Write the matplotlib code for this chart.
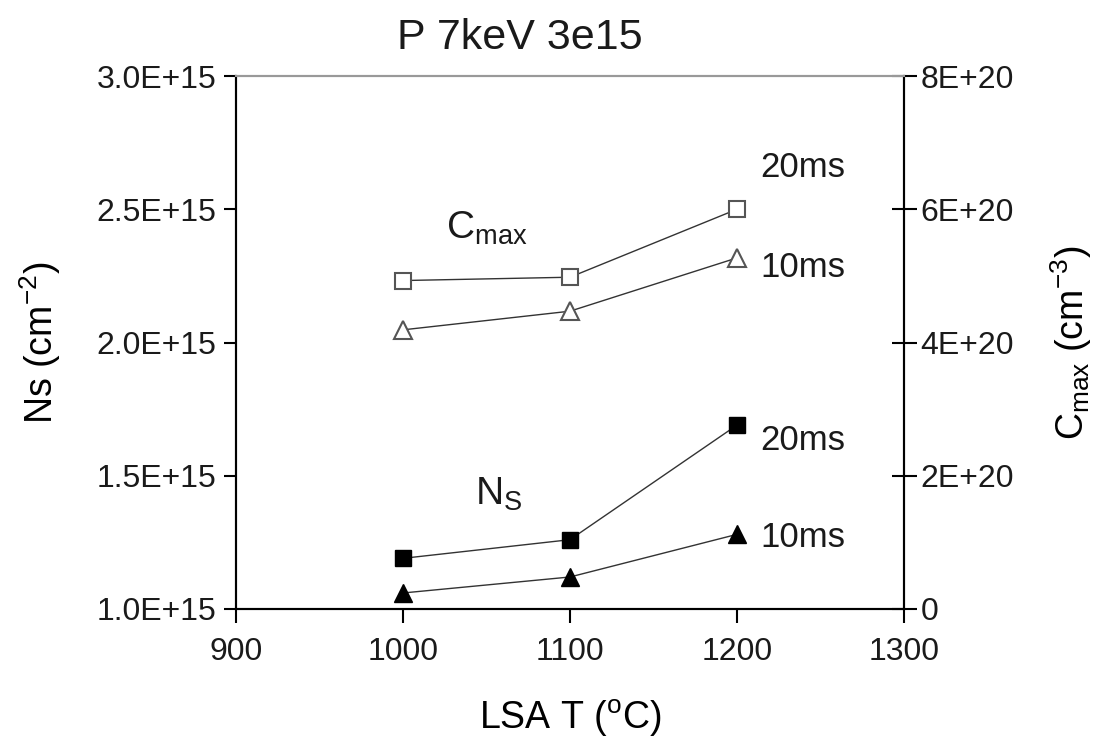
import matplotlib
matplotlib.use('Agg')
import matplotlib.pyplot as plt
from matplotlib.ticker import FuncFormatter

plt.rcParams['font.family'] = ['Liberation Sans', 'DejaVu Sans']
plt.rcParams['mathtext.fontset'] = 'custom'
plt.rcParams['mathtext.rm'] = 'Liberation Sans'
plt.rcParams['mathtext.it'] = 'Liberation Sans'
plt.rcParams['text.color'] = '#1a1a1a'
plt.rcParams['xtick.labelcolor'] = '#1a1a1a'
plt.rcParams['ytick.labelcolor'] = '#1a1a1a'

# LSA temperature (C)
temps = [1000, 1100, 1200]

# sheet dose Ns (cm^-2)
ns_20ms = [1.19e15, 1.26e15, 1.69e15]
ns_10ms = [1.06e15, 1.12e15, 1.28e15]

# peak concentration Cmax (cm^-3)
cmax_20ms = [4.93e20, 4.98e20, 6.00e20]
cmax_10ms = [4.19e20, 4.47e20, 5.27e20]

left_ticks = [1.0e15, 1.5e15, 2.0e15, 2.5e15, 3.0e15]
right_ticks = [0, 2e20, 4e20, 6e20, 8e20]
x_ticks = [900, 1000, 1100, 1200, 1300]

fig = plt.figure(figsize=(11.04, 7.44), dpi=100)
ax = fig.add_axes([0.2138, 0.1815, 0.605, 0.7163])
ax2 = ax.twinx()

line_kw = dict(color='#333333', lw=1.0)

ax.plot(temps, ns_20ms, marker='s', ms=12, mfc='black', mec='black', **line_kw)
ax.plot(temps, ns_10ms, marker='^', ms=13, mfc='black', mec='black', **line_kw)
ax2.plot(temps, cmax_20ms, marker='s', ms=12, mfc='white', mec='#555555', mew=1.5, **line_kw)
ax2.plot(temps, cmax_10ms, marker='^', ms=13, mfc='white', mec='#555555', mew=1.5, **line_kw)

ax.set_xlim(900, 1300)
ax.set_ylim(1.0e15, 3.0e15)
ax2.set_ylim(0, 8e20)
ax.set_xticks(x_ticks)
ax.set_yticks(left_ticks)
ax2.set_yticks(right_ticks)

ax.yaxis.set_major_formatter(FuncFormatter(lambda v, p: '%.1fE+%d' % (v / 1e15, 15)))
ax2.yaxis.set_major_formatter(FuncFormatter(lambda v, p: '0' if v == 0 else '%dE+20' % round(v / 1e20)))

for a in (ax, ax2):
    for side in ('left', 'right', 'bottom'):
        a.spines[side].set_linewidth(1.5)
        a.spines[side].set_color('black')
    a.spines['top'].set_color('#999999')
    a.spines['top'].set_linewidth(1.5)

ax.tick_params(axis='x', direction='out', length=10, width=1.5, labelsize=23, pad=10)
ax.tick_params(axis='y', direction='out', length=9, width=1.5, labelsize=23, pad=5)
ax2.tick_params(axis='y', direction='inout', length=18, width=1.5, labelsize=23, pad=3)

ax.set_xlabel('LSA T ($^{\\rm o}$C)', fontsize=27, labelpad=22)
ax.set_ylabel('Ns (cm$^{-2}$)', fontsize=27, labelpad=24)
ax2.set_ylabel('C$_{\\rm max}$ (cm$^{-3}$)', fontsize=27, labelpad=25)

fig.text(0.471, 0.949, 'P 7keV 3e15', fontsize=31, ha='center', va='center')

# series labels
ax2.text(1214, 6.62e20, '20ms', fontsize=25, va='center')
ax2.text(1214, 5.12e20, '10ms', fontsize=25, va='center')
ax.text(1214, 1.634e15, '20ms', fontsize=25, va='center')
ax.text(1214, 1.27e15, '10ms', fontsize=25, va='center')
ax2.text(1026, 5.72e20, 'C$_{\\rm max}$', fontsize=28, va='center')
ax.text(1043, 1.43e15, 'N$_{\\rm S}$', fontsize=28, va='center')

fig.savefig('out.png', dpi=100)
